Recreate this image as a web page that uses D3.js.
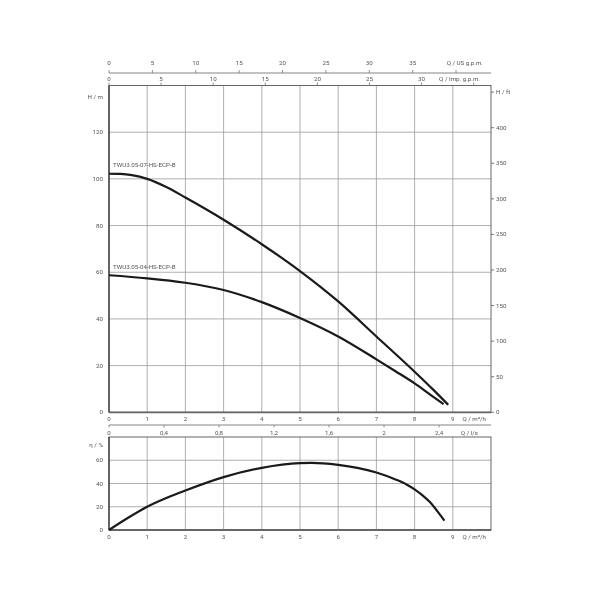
<!DOCTYPE html>
<html><head><meta charset="utf-8">
<script src="https://cdn.jsdelivr.net/npm/d3@7"></script>
<style>body{margin:0;background:#fff}svg{will-change:transform}text{font-family:Roboto,"Open Sans",sans-serif;font-size:6.2px;fill:#555;font-variant-ligatures:none}</style>
</head><body><svg id="c" width="600" height="600"></svg>
<script>
// ---- data ----
const qHigh = [0, 0.3, 0.6, 1, 1.5, 2, 3, 4, 5, 6, 7, 8, 8.5, 8.88];
const hHigh = [102.2, 102.1, 101.6, 100, 96.5, 92, 82.5, 72, 60.5, 47.5, 32.5, 17.4, 9.5, 3.2];
const qLow = [0, 1, 2, 3, 4, 5, 6, 7, 7.5, 8, 8.5, 8.76];
const hLow = [58.7, 57.4, 55.5, 52.4, 47.2, 40.4, 32.5, 22.7, 17.6, 12.4, 6.5, 3.5];
const qEta = [0, 0.5, 1, 1.5, 2, 3, 4, 5, 5.3, 6, 6.5, 7, 7.5, 7.8, 8, 8.2, 8.4, 8.6, 8.78];
const eta = [0, 10.5, 20, 27.5, 34, 45.5, 53.5, 57.5, 57.7, 56, 53.5, 49.5, 43.5, 39, 35, 30, 24, 16, 8];
const seriesNames = ["TWU3.05-07-HS-ECP-B", "TWU3.05-04-HS-ECP-B"];
const qTicks = [0,1,2,3,4,5,6,7,8,9];
const hTicks = [0,20,40,60,80,100,120];
const ftTicks = [0,50,100,150,200,250,300,350,400];
const usTicks = [0,5,10,15,20,25,30,35,40];
const impTicks = [0,5,10,15,20,25,30,35];
const lsTicks = [0,0.4,0.8,1.2,1.6,2,2.4];
const etaTicks = [0,20,40,60];

const svg = d3.select("#c");
const L = 109, R = 491;
const x = d3.scaleLinear().domain([0,10]).range([L,R]);
const yH = d3.scaleLinear().domain([0,140]).range([412.3,85.5]);
const yFt = d3.scaleLinear().domain([0,140*3.28084]).range([412.3,85.5]);
const xUS = d3.scaleLinear().domain([0,10*4.40287]).range([L,R]);
const xImp = d3.scaleLinear().domain([0,10*3.66615]).range([L,R]);
const xLs = d3.scaleLinear().domain([0,10/3.6]).range([L,R]);
const yE = d3.scaleLinear().domain([0,80]).range([530,437]);

const fmt = d => String(d).replace(".", ",");
const grid = "#9a9a9a", axc = "#444";

function frame(y0, y1, yTicks, ys){
  const g = svg.append("g");
  g.selectAll(".v").data(qTicks.slice(1)).join("line")
    .attr("x1", d=>x(d)).attr("x2", d=>x(d)).attr("y1", y0).attr("y2", y1)
    .attr("stroke", grid).attr("stroke-width", 0.8);
  g.selectAll(".h").data(yTicks.slice(1)).join("line")
    .attr("x1", L).attr("x2", R).attr("y1", d=>ys(d)).attr("y2", d=>ys(d))
    .attr("stroke", grid).attr("stroke-width", 0.8);
  g.append("rect").attr("x", L).attr("y", y0).attr("width", R-L).attr("height", y1-y0)
    .attr("fill","none").attr("stroke", "#555").attr("stroke-width", 0.9);
  g.append("line").attr("x1",L).attr("x2",L).attr("y1",y0).attr("y2",y1).attr("stroke",axc).attr("stroke-width",1.4);
  g.append("line").attr("x1",L).attr("x2",R).attr("y1",y1).attr("y2",y1).attr("stroke","#666").attr("stroke-width",1.8);
  g.selectAll(".yl").data(yTicks).join("text")
    .attr("x", 103).attr("y", d=>ys(d)+2).attr("text-anchor","end").text(d=>d);
  g.selectAll(".xl").data(qTicks).join("text")
    .attr("x", d=>x(d)).attr("y", y1+9).attr("text-anchor","middle").text(d=>d);
  g.append("text").attr("x", 486).attr("y", y1+9).attr("text-anchor","end").text("Q / m³/h");
}

// top chart
frame(85.5, 412.3, hTicks, yH);
svg.append("text").attr("x", 103).attr("y", 99).attr("text-anchor","end").text("H / m");

// right ft axis
const ra = svg.append("g");
ra.selectAll("line").data(ftTicks.concat([450])).join("line")
  .attr("x1", R).attr("x2", R+3).attr("y1", d=>yFt(d)).attr("y2", d=>yFt(d)).attr("stroke","#555").attr("stroke-width",0.8);
ra.selectAll("text").data(ftTicks).join("text")
  .attr("x", R+5).attr("y", d=>yFt(d)+2).text(d=>d);
ra.append("text").attr("x", R+5).attr("y", yFt(450)+2).text("H / ft");

// US gpm axis
const us = svg.append("g");
us.append("line").attr("x1",L).attr("x2",R).attr("y1",73).attr("y2",73).attr("stroke","#777").attr("stroke-width",0.9);
us.selectAll("line.t").data(usTicks).join("line").attr("class","t")
  .attr("x1", d=>xUS(d)).attr("x2", d=>xUS(d)).attr("y1", 73).attr("y2", 70).attr("stroke","#777").attr("stroke-width",0.8);
us.selectAll("text").data(usTicks.slice(0,-1)).join("text")
  .attr("x", d=>xUS(d)).attr("y", 65).attr("text-anchor","middle").text(d=>d);
us.append("text").attr("x", 483).attr("y", 65).attr("text-anchor","end").text("Q / US g.p.m.");

// Imp gpm axis
const im = svg.append("g");
im.selectAll("line").data(impTicks).join("line")
  .attr("x1", d=>xImp(d)).attr("x2", d=>xImp(d)).attr("y1", 85.5).attr("y2", 82.5).attr("stroke","#777").attr("stroke-width",0.8);
im.selectAll("text").data(impTicks.slice(0,-1)).join("text")
  .attr("x", d=>xImp(d)).attr("y", 80.5).attr("text-anchor","middle").text(d=>d);
im.append("text").attr("x", 480).attr("y", 80.5).attr("text-anchor","end").text("Q / Imp. g.p.m.");

// l/s axis
const ls = svg.append("g");
ls.append("line").attr("x1",L).attr("x2",R).attr("y1",425).attr("y2",425).attr("stroke","#777").attr("stroke-width",0.9);
ls.selectAll("line.t").data(lsTicks).join("line").attr("class","t")
  .attr("x1", d=>xLs(d)).attr("x2", d=>xLs(d)).attr("y1", 425).attr("y2", 427.5).attr("stroke","#777").attr("stroke-width",0.8);
ls.selectAll("text").data(lsTicks).join("text")
  .attr("x", d=>xLs(d)).attr("y", 434.5).attr("text-anchor","middle").text(fmt);
ls.append("text").attr("x", 478).attr("y", 434.5).attr("text-anchor","end").text("Q / l/s");

// bottom chart
frame(437, 530, etaTicks, yE);
svg.append("text").attr("x", 103).attr("y", 446.5).attr("text-anchor","end").text("η / %");

// curves
const lineH = d3.line().x(d=>x(d[0])).y(d=>yH(d[1])).curve(d3.curveMonotoneX);
const lineE = d3.line().x(d=>x(d[0])).y(d=>yE(d[1])).curve(d3.curveMonotoneX);
svg.append("path").attr("d", lineH(d3.zip(qHigh,hHigh))).attr("fill","none").attr("stroke","#1a1a1a").attr("stroke-width",2.2);
svg.append("path").attr("d", lineH(d3.zip(qLow,hLow))).attr("fill","none").attr("stroke","#1a1a1a").attr("stroke-width",2.2);
svg.append("path").attr("d", lineE(d3.zip(qEta,eta))).attr("fill","none").attr("stroke","#1a1a1a").attr("stroke-width",2.2);

svg.append("text").attr("x", 113).attr("y", 167).text(seriesNames[0]);
svg.append("text").attr("x", 113).attr("y", 269).text(seriesNames[1]);
</script></body></html>
